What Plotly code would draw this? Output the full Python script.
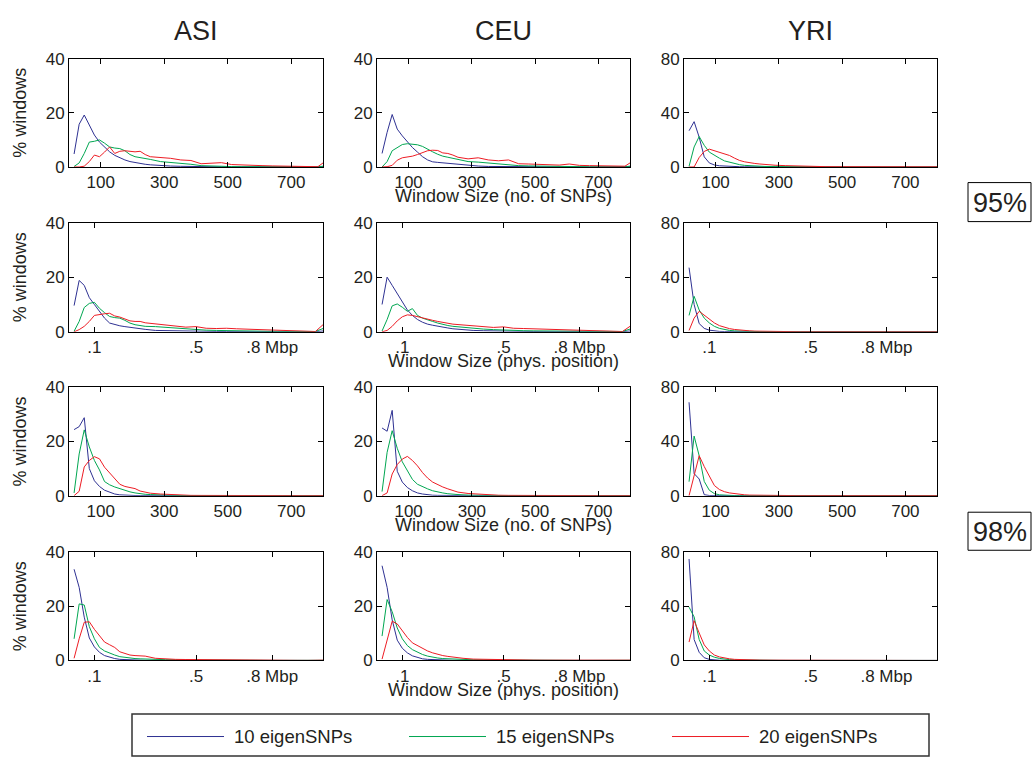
import plotly.graph_objects as go

W, H = 1032, 767

# ---------------- data ----------------
SERIES = ["10 eigenSNPs", "15 eigenSNPs", "20 eigenSNPs"]
COLORS = ["#2E3192", "#00A651", "#ED1C24"]
POPS = ["ASI", "CEU", "YRI"]
LEVELS = ["95%", "98%"]

SNP_X = [16, 32, 48, 64, 80, 96, 112, 128, 144, 160, 176, 192, 208, 224, 240, 256,
         288, 320, 352, 384, 416, 448, 480, 512, 544, 576, 608, 640, 672, 704, 736, 768,
         784, 800]
PHYS_X = [0.02, 0.04, 0.06, 0.08, 0.10, 0.12, 0.14, 0.16, 0.18, 0.20, 0.22, 0.24, 0.26, 0.28, 0.30,
          0.34, 0.38, 0.42, 0.46, 0.50, 0.54, 0.58, 0.62, 0.66, 0.70, 0.74, 0.78, 0.82, 0.86, 0.90, 0.94,
          0.97, 1.00]

SNP_TICKS = [100, 300, 500, 700]
SNP_TICKTEXT = ["100", "300", "500", "700"]
PHYS_TICKS = [0.1, 0.5, 0.8]
PHYS_TICKTEXT = [".1", ".5", ".8 Mbp"]

# ---- 95%, window size in SNPs ----
ASI_SNP95_10 = [4.8, 15.8, 19.2, 15.5, 11.8, 9.2, 7.2, 5.6, 4.3, 3.3, 2.6, 2.0, 1.6, 1.3, 1.0, 0.8,
                0.5, 0.35, 0.25, 0.15, 0.1, 0.08, 0.05, 0.05, 0.03, 0.03, 0.02, 0.02, 0.01, 0.01, 0.01, 0.0,
                0.0, 0.1]
ASI_SNP95_15 = [0.2, 1.5, 5.0, 9.2, 9.5, 10.0, 8.8, 7.4, 7.0, 6.8, 6.0, 4.6, 3.8, 3.5, 3.2, 2.8,
                2.0, 1.7, 1.4, 1.0, 0.5, 0.3, 0.2, 0.15, 0.1, 0.08, 0.06, 0.05, 0.04, 0.03, 0.02, 0.02,
                0.02, 0.3]
ASI_SNP95_20 = [0.0, 0.0, 0.3, 2.0, 4.4, 3.8, 5.5, 7.4, 5.0, 5.8, 6.0, 5.8, 5.6, 5.8, 4.6, 3.8,
                3.5, 3.2, 2.6, 2.4, 1.2, 1.3, 1.6, 0.9, 0.7, 0.6, 0.5, 0.4, 0.3, 0.3, 0.2, 0.1,
                0.1, 1.5]

CEU_SNP95_10 = [5.0, 12.8, 19.4, 14.0, 11.5, 9.2, 7.2, 5.5, 3.8, 2.6, 1.9, 1.7, 1.5, 1.4, 1.2, 1.0,
                0.6, 0.35, 0.2, 0.15, 0.1, 0.08, 0.06, 0.05, 0.04, 0.03, 0.03, 0.02, 0.02, 0.01, 0.01, 0.01,
                0.0, 0.2]
CEU_SNP95_15 = [0.0, 2.0, 6.0, 7.2, 8.3, 8.6, 8.4, 8.2, 7.6, 6.5, 5.6, 4.7, 4.0, 3.6, 3.2, 2.7,
                2.0, 1.8, 1.5, 1.0, 0.7, 0.5, 0.4, 0.3, 0.2, 0.15, 0.1, 0.08, 0.06, 0.05, 0.04, 0.03,
                0.02, 0.3]
CEU_SNP95_20 = [0.0, 0.1, 0.6, 2.5, 3.4, 3.6, 4.0, 4.6, 5.3, 6.0, 6.2, 6.1, 5.2, 5.0, 4.4, 3.6,
                3.0, 3.4, 2.6, 2.3, 2.6, 1.2, 1.1, 1.0, 0.9, 0.7, 1.1, 0.6, 0.5, 0.4, 0.4, 0.4,
                0.3, 1.5]

YRI_SNP95_10 = [26.8, 33.5, 22.0, 7.5, 3.0, 1.5, 0.9, 0.6, 0.4, 0.3, 0.2, 0.15, 0.1, 0.1, 0.05, 0.05,
                0.02, 0.01, 0.0, 0.0, 0.0, 0.0, 0.0, 0.0, 0.0, 0.0, 0.0, 0.0, 0.0, 0.0, 0.0, 0.0,
                0.0, 0.0]
YRI_SNP95_15 = [0.5, 14.8, 22.5, 16.0, 11.0, 8.5, 6.5, 4.5, 3.5, 2.5, 1.7, 1.2, 0.9, 0.7, 0.5, 0.4,
                0.3, 0.2, 0.1, 0.1, 0.05, 0.03, 0.02, 0.01, 0.0, 0.0, 0.0, 0.0, 0.0, 0.0, 0.0, 0.0,
                0.0, 0.0]
YRI_SNP95_20 = [0.0, 0.0, 7.0, 11.5, 13.2, 12.0, 10.5, 9.8, 8.5, 6.5, 4.8, 3.8, 3.0, 2.6, 2.2, 1.8,
                1.3, 1.0, 0.7, 0.5, 0.35, 0.25, 0.2, 0.15, 0.1, 0.1, 0.08, 0.06, 0.05, 0.05, 0.04, 0.03,
                0.03, 0.1]

# ---- 95%, window size in Mbp ----
ASI_PHYS95_10 = [9.6, 18.8, 17.0, 12.5, 10.0, 7.5, 5.0, 3.2, 2.6, 2.2, 1.9, 1.6, 1.4, 1.2, 0.9,
                 0.5, 0.4, 0.3, 0.25, 0.2, 0.15, 0.12, 0.1, 0.08, 0.07, 0.06, 0.05, 0.05, 0.04, 0.03, 0.03,
                 0.02, 0.3]
ASI_PHYS95_15 = [0.2, 3.8, 8.9, 10.4, 10.8, 8.6, 7.0, 5.6, 5.2, 5.0, 4.2, 3.2, 2.6, 2.3, 2.0,
                 1.9, 1.6, 1.5, 1.2, 0.8, 0.6, 0.5, 0.4, 0.35, 0.3, 0.25, 0.2, 0.2, 0.15, 0.1, 0.1,
                 0.1, 1.2]
ASI_PHYS95_20 = [0.0, 0.8, 2.0, 3.8, 6.0, 6.4, 6.6, 6.8, 5.8, 5.4, 4.8, 4.0, 3.8, 3.8, 3.3,
                 2.9, 2.6, 2.1, 1.7, 1.9, 1.3, 1.2, 1.3, 1.1, 1.0, 0.8, 0.7, 0.6, 0.4, 0.25, 0.15,
                 0.1, 2.6]

CEU_PHYS95_10 = [10.0, 20.0, 17.0, 14.0, 10.5, 8.0, 6.0, 4.5, 3.5, 2.8, 2.4, 2.0, 1.7, 1.4, 1.1,
                 0.7, 0.5, 0.4, 0.3, 0.2, 0.15, 0.12, 0.1, 0.08, 0.06, 0.05, 0.05, 0.04, 0.03, 0.03, 0.02,
                 0.02, 0.3]
CEU_PHYS95_15 = [0.3, 4.5, 9.5, 10.2, 9.0, 7.5, 8.5, 6.0, 5.0, 4.3, 3.8, 3.2, 2.7, 2.3, 2.0,
                 1.6, 1.3, 1.0, 0.8, 0.6, 0.5, 0.4, 0.35, 0.3, 0.25, 0.2, 0.2, 0.15, 0.1, 0.1, 0.1,
                 0.1, 1.0]
CEU_PHYS95_20 = [0.0, 0.5, 2.0, 4.0, 5.5, 6.2, 6.0, 5.5, 5.2, 4.6, 4.2, 3.8, 3.4, 3.0, 2.8,
                 2.5, 2.2, 2.0, 1.6, 1.8, 1.3, 1.2, 1.1, 1.0, 0.9, 0.8, 0.7, 0.6, 0.4, 0.3, 0.2,
                 0.1, 2.0]

YRI_PHYS95_10 = [47.0, 20.0, 6.0, 2.5, 1.2, 0.6, 0.3, 0.2, 0.1, 0.05, 0.03, 0.02, 0.01, 0.0, 0.0,
                 0.0, 0.0, 0.0, 0.0, 0.0, 0.0, 0.0, 0.0, 0.0, 0.0, 0.0, 0.0, 0.0, 0.0, 0.0, 0.0,
                 0.0, 0.0]
YRI_PHYS95_15 = [12.0, 26.0, 16.0, 10.0, 6.5, 4.0, 2.5, 1.6, 1.0, 0.7, 0.5, 0.35, 0.25, 0.2, 0.15,
                 0.1, 0.05, 0.03, 0.02, 0.01, 0.0, 0.0, 0.0, 0.0, 0.0, 0.0, 0.0, 0.0, 0.0, 0.0, 0.0,
                 0.0, 0.0]
YRI_PHYS95_20 = [1.0, 10.0, 15.0, 12.0, 9.0, 6.5, 4.5, 3.2, 2.3, 1.7, 1.2, 0.9, 0.7, 0.5, 0.4,
                 0.25, 0.15, 0.1, 0.05, 0.03, 0.02, 0.01, 0.01, 0.0, 0.0, 0.0, 0.0, 0.0, 0.0, 0.0, 0.0,
                 0.0, 0.0]

# ---- 98%, window size in SNPs ----
ASI_SNP98_10 = [24.4, 25.5, 28.8, 10.0, 5.5, 3.4, 2.0, 1.2, 0.6, 0.3, 0.15, 0.1, 0.05, 0.03, 0.02, 0.01,
                0.0, 0.0, 0.0, 0.0, 0.0, 0.0, 0.0, 0.0, 0.0, 0.0, 0.0, 0.0, 0.0, 0.0, 0.0, 0.0,
                0.0, 0.0]
ASI_SNP98_15 = [1.0, 15.4, 24.3, 18.0, 13.0, 9.5, 5.2, 4.0, 3.2, 2.5, 1.9, 1.4, 1.0, 0.7, 0.5, 0.4,
                0.2, 0.1, 0.05, 0.03, 0.02, 0.01, 0.0, 0.0, 0.0, 0.0, 0.0, 0.0, 0.0, 0.0, 0.0, 0.0,
                0.0, 0.0]
ASI_SNP98_20 = [0.0, 1.6, 10.6, 13.0, 14.4, 13.6, 10.5, 8.4, 6.0, 4.2, 3.4, 3.0, 2.6, 1.7, 1.2, 0.9,
                0.6, 0.35, 0.2, 0.1, 0.08, 0.05, 0.03, 0.02, 0.01, 0.01, 0.0, 0.0, 0.0, 0.0, 0.0, 0.0,
                0.0, 0.0]

CEU_SNP98_10 = [25.0, 23.8, 31.5, 9.0, 5.0, 3.0, 1.8, 1.0, 0.6, 0.3, 0.15, 0.1, 0.05, 0.03, 0.02, 0.01,
                0.0, 0.0, 0.0, 0.0, 0.0, 0.0, 0.0, 0.0, 0.0, 0.0, 0.0, 0.0, 0.0, 0.0, 0.0, 0.0,
                0.0, 0.0]
CEU_SNP98_15 = [1.5, 16.0, 24.0, 17.5, 12.5, 9.0, 6.0, 4.2, 3.2, 2.5, 1.8, 1.3, 1.0, 0.7, 0.5, 0.4,
                0.2, 0.1, 0.06, 0.03, 0.02, 0.01, 0.0, 0.0, 0.0, 0.0, 0.0, 0.0, 0.0, 0.0, 0.0, 0.0,
                0.0, 0.0]
CEU_SNP98_20 = [0.0, 1.0, 8.0, 11.5, 13.5, 14.5, 13.0, 11.0, 8.5, 6.5, 5.0, 4.0, 3.2, 2.5, 1.8, 1.3,
                0.8, 0.5, 0.3, 0.15, 0.1, 0.06, 0.04, 0.03, 0.02, 0.01, 0.0, 0.0, 0.0, 0.0, 0.0, 0.0,
                0.0, 0.0]

YRI_SNP98_10 = [69.0, 16.3, 12.3, 0.7, 0.1, 0.0, 0.0, 0.0, 0.0, 0.0, 0.0, 0.0, 0.0, 0.0, 0.0, 0.0,
                0.0, 0.0, 0.0, 0.0, 0.0, 0.0, 0.0, 0.0, 0.0, 0.0, 0.0, 0.0, 0.0, 0.0, 0.0, 0.0,
                0.0, 0.0]
YRI_SNP98_15 = [10.3, 44.0, 29.5, 10.5, 4.0, 1.5, 0.6, 0.3, 0.1, 0.05, 0.0, 0.0, 0.0, 0.0, 0.0, 0.0,
                0.0, 0.0, 0.0, 0.0, 0.0, 0.0, 0.0, 0.0, 0.0, 0.0, 0.0, 0.0, 0.0, 0.0, 0.0, 0.0,
                0.0, 0.0]
YRI_SNP98_20 = [0.0, 14.0, 29.5, 21.5, 14.0, 7.5, 4.5, 2.9, 2.0, 1.4, 0.9, 0.6, 0.4, 0.3, 0.2, 0.15,
                0.1, 0.05, 0.03, 0.02, 0.01, 0.0, 0.0, 0.0, 0.0, 0.0, 0.0, 0.0, 0.0, 0.0, 0.0, 0.0,
                0.0, 0.0]

# ---- 98%, window size in Mbp ----
ASI_PHYS98_10 = [33.7, 27.0, 16.0, 8.3, 5.0, 3.0, 1.8, 1.1, 0.7, 0.4, 0.3, 0.2, 0.15, 0.1, 0.05,
                 0.03, 0.02, 0.01, 0.0, 0.0, 0.0, 0.0, 0.0, 0.0, 0.0, 0.0, 0.0, 0.0, 0.0, 0.0, 0.0,
                 0.0, 0.0]
ASI_PHYS98_15 = [8.0, 20.9, 20.5, 12.5, 8.0, 4.8, 3.5, 2.6, 2.0, 1.4, 1.1, 0.9, 0.7, 0.6, 0.5,
                 0.35, 0.3, 0.25, 0.2, 0.15, 0.1, 0.1, 0.08, 0.06, 0.05, 0.04, 0.03, 0.02, 0.02, 0.01, 0.01,
                 0.01, 0.05]
ASI_PHYS98_20 = [0.8, 8.0, 14.1, 14.3, 11.5, 9.0, 6.8, 5.8, 4.8, 3.2, 2.6, 2.0, 1.8, 1.7, 1.6,
                 0.8, 0.5, 0.4, 0.35, 0.3, 0.25, 0.2, 0.15, 0.12, 0.1, 0.08, 0.06, 0.05, 0.04, 0.03, 0.02,
                 0.02, 0.1]

CEU_PHYS98_10 = [35.0, 27.0, 15.0, 7.5, 4.5, 2.8, 1.7, 1.0, 0.6, 0.4, 0.3, 0.2, 0.15, 0.1, 0.05,
                 0.03, 0.02, 0.01, 0.0, 0.0, 0.0, 0.0, 0.0, 0.0, 0.0, 0.0, 0.0, 0.0, 0.0, 0.0, 0.0,
                 0.0, 0.0]
CEU_PHYS98_15 = [9.0, 22.5, 18.0, 12.0, 8.0, 5.5, 4.0, 3.0, 2.2, 1.6, 1.2, 0.9, 0.7, 0.6, 0.5,
                 0.35, 0.25, 0.2, 0.15, 0.1, 0.08, 0.06, 0.05, 0.04, 0.03, 0.02, 0.02, 0.01, 0.01, 0.01, 0.01,
                 0.01, 0.05]
CEU_PHYS98_20 = [0.5, 7.0, 14.5, 13.5, 11.0, 8.5, 6.5, 5.5, 4.3, 3.5, 2.8, 2.2, 1.8, 1.5, 1.2,
                 0.8, 0.5, 0.4, 0.3, 0.25, 0.2, 0.15, 0.12, 0.1, 0.08, 0.06, 0.05, 0.04, 0.03, 0.02, 0.02,
                 0.02, 0.1]

YRI_PHYS98_10 = [75.0, 15.5, 6.0, 2.0, 0.8, 0.3, 0.15, 0.1, 0.05, 0.0, 0.0, 0.0, 0.0, 0.0, 0.0,
                 0.0, 0.0, 0.0, 0.0, 0.0, 0.0, 0.0, 0.0, 0.0, 0.0, 0.0, 0.0, 0.0, 0.0, 0.0, 0.0,
                 0.0, 0.0]
YRI_PHYS98_15 = [39.4, 32.2, 15.5, 7.0, 4.0, 2.4, 1.5, 0.9, 0.6, 0.4, 0.3, 0.2, 0.15, 0.1, 0.1,
                 0.05, 0.03, 0.02, 0.01, 0.0, 0.0, 0.0, 0.0, 0.0, 0.0, 0.0, 0.0, 0.0, 0.0, 0.0, 0.0,
                 0.0, 0.0]
YRI_PHYS98_20 = [13.6, 29.4, 20.3, 11.5, 7.0, 4.0, 2.6, 1.7, 1.2, 0.8, 0.6, 0.45, 0.35, 0.3, 0.25,
                 0.2, 0.15, 0.1, 0.1, 0.05, 0.03, 0.02, 0.01, 0.0, 0.0, 0.0, 0.0, 0.0, 0.0, 0.0, 0.0,
                 0.0, 0.0]

Y_MAX = {"ASI": 40, "CEU": 40, "YRI": 80}
Y_TICKS = {"ASI": [0, 20, 40], "CEU": [0, 20, 40], "YRI": [0, 40, 80]}

# rows: (kind, level, per-population series)
ROWS = [
    ("snp", "95%", [[ASI_SNP95_10, ASI_SNP95_15, ASI_SNP95_20],
                    [CEU_SNP95_10, CEU_SNP95_15, CEU_SNP95_20],
                    [YRI_SNP95_10, YRI_SNP95_15, YRI_SNP95_20]]),
    ("phys", "95%", [[ASI_PHYS95_10, ASI_PHYS95_15, ASI_PHYS95_20],
                     [CEU_PHYS95_10, CEU_PHYS95_15, CEU_PHYS95_20],
                     [YRI_PHYS95_10, YRI_PHYS95_15, YRI_PHYS95_20]]),
    ("snp", "98%", [[ASI_SNP98_10, ASI_SNP98_15, ASI_SNP98_20],
                    [CEU_SNP98_10, CEU_SNP98_15, CEU_SNP98_20],
                    [YRI_SNP98_10, YRI_SNP98_15, YRI_SNP98_20]]),
    ("phys", "98%", [[ASI_PHYS98_10, ASI_PHYS98_15, ASI_PHYS98_20],
                     [CEU_PHYS98_10, CEU_PHYS98_15, CEU_PHYS98_20],
                     [YRI_PHYS98_10, YRI_PHYS98_15, YRI_PHYS98_20]]),
]
X_TITLES = {"snp": "Window Size (no. of SNPs)", "phys": "Window Size (phys. position)"}

# ---------------- layout geometry (pixels) ----------------
COL_PX = [(69, 323), (377, 630), (684, 937)]
ROW_PX = [(51, 162), (219, 331), (388, 499), (557, 668)]
FONT = "Liberation Sans, Arial, Helvetica, sans-serif"
TXT = "#231f20"


def fx(px):
    return px / W


def fy(py):
    return 1 - py / H


fig = go.Figure()
layout = dict(
    width=W, height=H, autosize=False,
    margin=dict(l=0, r=0, t=0, b=0),
    paper_bgcolor="white", plot_bgcolor="white",
    showlegend=False,
    font=dict(family=FONT, size=17, color=TXT),
)
annotations = []
shapes = []

idx = 0
for r, (kind, level, pops) in enumerate(ROWS):
    for c, pop in enumerate(POPS):
        idx += 1
        sfx = "" if idx == 1 else str(idx)
        xref, yref = "x" + sfx, "y" + sfx
        xs = SNP_X if kind == "snp" else PHYS_X
        for name, color, ys in zip(SERIES, COLORS, pops[c]):
            fig.add_trace(go.Scatter(
                x=xs, y=ys, mode="lines", name=name,
                line=dict(color=color, width=1),
                xaxis=xref, yaxis=yref, showlegend=False,
                hovertemplate=f"{pop} {level} {name}<br>%{{x}}: %{{y}}%<extra></extra>",
            ))
        x0, x1 = COL_PX[c]
        y0, y1 = ROW_PX[r]
        common = dict(showline=True, linecolor="black", linewidth=1, mirror="ticks",
                      ticks="inside", ticklen=5, tickwidth=1, tickcolor="black",
                      showgrid=False, zeroline=False, fixedrange=True,
                      tickfont=dict(family=FONT, size=17, color=TXT))
        if kind == "snp":
            xax = dict(range=[0, 800], tickvals=SNP_TICKS, ticktext=SNP_TICKTEXT)
        else:
            xax = dict(range=[0, 1.0], tickvals=PHYS_TICKS, ticktext=PHYS_TICKTEXT)
        xax.update(common)
        xax.update(domain=[fx(x0), fx(x1)], anchor=yref)
        yax = dict(range=[0, Y_MAX[pop]], tickvals=Y_TICKS[pop],
                   ticktext=[str(v) for v in Y_TICKS[pop]])
        yax.update(common)
        yax.update(domain=[fy(y1), fy(y0)], anchor=xref)
        layout["xaxis" + sfx] = xax
        layout["yaxis" + sfx] = yax

        if c == 0:
            annotations.append(dict(
                text="% windows", x=fx(20), y=fy((y0 + y1) / 2), xref="paper", yref="paper",
                showarrow=False, textangle=-90, font=dict(size=18, color=TXT),
                xanchor="center", yanchor="middle"))
        if c == 1:
            annotations.append(dict(
                text=X_TITLES[kind], x=fx((x0 + x1) / 2), y=fy(y1 + 30), xref="paper", yref="paper",
                showarrow=False, font=dict(size=18, color=TXT),
                xanchor="center", yanchor="middle"))

# column titles
for c, pop in enumerate(POPS):
    x0, x1 = COL_PX[c]
    annotations.append(dict(text=pop, x=fx((x0 + x1) / 2), y=fy(23), xref="paper", yref="paper",
                            showarrow=False, font=dict(size=27, color=TXT),
                            xanchor="center", yanchor="middle"))

# confidence level labels in boxes
for level, (b0, b1) in zip(LEVELS, [(178, 218), (516, 555)]):
    shapes.append(dict(type="rect", xref="paper", yref="paper",
                       x0=fx(968), x1=fx(1031), y0=fy(b1), y1=fy(b0),
                       line=dict(color="black", width=1), fillcolor="rgba(0,0,0,0)"))
    annotations.append(dict(text=level, x=fx(971), y=fy((b0 + b1) / 2 + 1), xref="paper", yref="paper",
                            showarrow=False, font=dict(size=27, color=TXT),
                            xanchor="left", yanchor="middle"))

# legend box
shapes.append(dict(type="rect", xref="paper", yref="paper",
                   x0=fx(132), x1=fx(929), y0=fy(766), y1=fy(723),
                   line=dict(color="#333333", width=1.5), fillcolor="rgba(0,0,0,0)"))
LEG_X = [147, 409, 672]
for name, color, lx in zip(SERIES, COLORS, LEG_X):
    shapes.append(dict(type="line", xref="paper", yref="paper",
                       x0=fx(lx), x1=fx(lx + 77), y0=fy(746), y1=fy(746),
                       line=dict(color=color, width=1)))
    annotations.append(dict(text=name, x=fx(lx + 85), y=fy(746), xref="paper", yref="paper",
                            showarrow=False, font=dict(size=18.5, color=TXT),
                            xanchor="left", yanchor="middle"))

layout["annotations"] = annotations
layout["shapes"] = shapes
fig.update_layout(**layout)
fig.write_html(
    "out.html",
    config={"displayModeBar": False},
    post_script="document.body.style.margin='0';document.body.style.overflow='hidden';",
)
